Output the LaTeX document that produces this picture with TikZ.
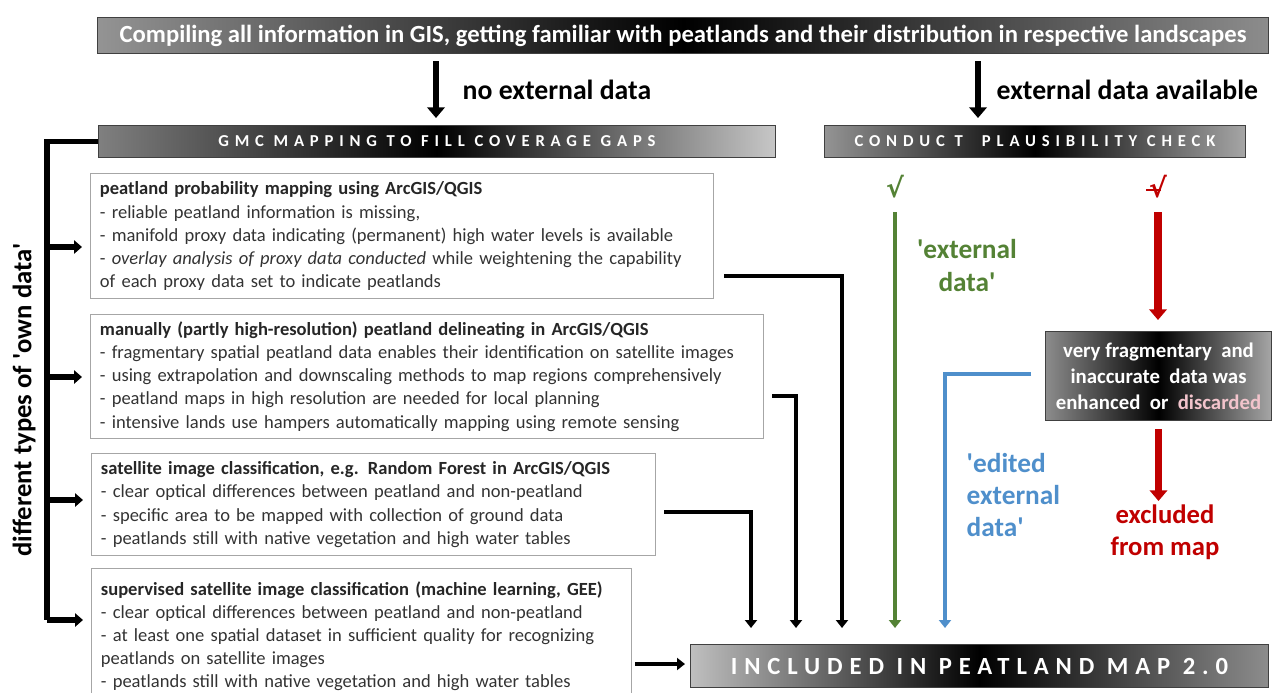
\documentclass[tikz,border=0pt]{standalone}
\usepackage{fontspec}
\setmainfont{Carlito}
\newfontfamily\symfont{DejaVu Sans}
\newfontfamily\capsfont[LetterSpace=35]{Carlito}
\newfontfamily\inclfont[LetterSpace=28]{Carlito}
\usetikzlibrary{arrows.meta,calc}
\definecolor{tgreen}{HTML}{548235}
\definecolor{tblue}{HTML}{4F8FCB}
\definecolor{tred}{HTML}{C00000}
\definecolor{tpink}{HTML}{F2C4CC}
\definecolor{bodytxt}{HTML}{333333}
\newcommand{\sq}{\textquotesingle}
\begin{document}
\begin{tikzpicture}[x=0.75pt,y=-0.75pt,
  txtbox/.style={draw=black!35, line width=0.9pt, anchor=north west, inner xsep=7pt, inner ysep=0pt,
    align=left, font=\fontsize{13.9}{17.3}\selectfont, text=bodytxt},
  shbox/.style={draw=black!75, line width=0.75pt, anchor=north west, inner sep=0pt, text=white, font=\bfseries},
  conn/.style={line width=3pt, line join=miter, -{Triangle[length=6pt,width=9pt]}},
  toparrow/.style={line width=4.5pt, -{Triangle[length=8pt,width=13pt]}},
  brarrow/.style={line width=4pt, -{Triangle[length=6pt,width=10pt]}},
  gline/.style={draw=tgreen, line width=3.5pt, -{Triangle[length=6pt,width=9pt]}},
  bline/.style={draw=tblue, line width=3.5pt, line join=miter, -{Triangle[length=6pt,width=9pt]}},
  rline/.style={draw=tred, line width=5.5pt, -{Triangle[length=8pt,width=13pt]}},
  lbl/.style={font=\bfseries\fontsize{20.8}{24}\selectfont, anchor=west}
]
\useasboundingbox (0,0) rectangle (1272,693);

% top banner
\node[shbox, minimum width=878.25pt, minimum height=27pt, left color=black!42, right color=black!45, middle color=black] (top) at (97,17)
  {\fontsize{18.5}{20}\selectfont Compiling all information in GIS, getting familiar with peatlands and their distribution in respective landscapes};

% second row boxes
\node[shbox, minimum width=507.75pt, minimum height=24pt, left color=black!50, right color=black!22, middle color=black] (gmc) at (98,125)
  {\capsfont\bfseries\fontsize{12.5}{14}\selectfont GMC MAPPING TO FILL COVERAGE GAPS};
\node[shbox, minimum width=315.75pt, minimum height=24pt, left color=black!42, right color=black!35, middle color=black] (chk) at (824,125)
  {\capsfont\bfseries\fontsize{12.5}{14}\selectfont CONDUC T \ PLAUSIBILITY CHECK};

\draw[toparrow] ($(top.south west)+(339,7)$) -- ($(gmc.north west)+(338,-7)$);
\draw[toparrow] ($(top.south west)+(881,7)$) -- ($(chk.north west)+(154,-7)$);
\node[lbl] (lno) at (458,90) {no external data};
\node[lbl] (lyes) at (992,90) {external data available};

% text boxes
\node[txtbox, minimum width=467.25pt, minimum height=93.75pt, text width=453.25pt] (box1) at (90,173)
  {\textbf{\color{black!85}peatland probability mapping using ArcGIS/QGIS}\\
   - reliable peatland information is missing,\\
   - manifold proxy data indicating (permanent) high water levels is available\\
   - \textit{overlay analysis of proxy data conducted} while weightening the capability\\
   of each proxy data set to indicate peatlands};
\node[txtbox, minimum width=504.75pt, minimum height=93pt, text width=490.75pt] (box2) at (90,314)
  {\textbf{\color{black!85}manually (partly high-resolution) peatland delineating in ArcGIS/QGIS}\\
   - fragmentary spatial peatland data enables their identification on satellite images\\
   - using extrapolation and downscaling methods to map regions comprehensively\\
   - peatland maps in high resolution are needed for local planning\\
   - intensive lands use hampers automatically mapping using remote sensing};
\node[txtbox, minimum width=423pt, minimum height=76.5pt, text width=409pt] (box3) at (91,453)
  {\textbf{\color{black!85}satellite image classification, e.g. Random Forest in ArcGIS/QGIS}\\
   - clear optical differences between peatland and non-peatland\\
   - specific area to be mapped with collection of ground data\\
   - peatlands still with native vegetation and high water tables};
\node[txtbox, minimum width=405pt, minimum height=101pt, text width=391pt] (box4) at (91,568)
  {\textbf{\color{black!85}supervised satellite image classification (machine learning, GEE)}\\
   - clear optical differences between peatland and non-peatland\\
   - at least one spatial dataset in sufficient quality for recognizing\\
   peatlands on satellite images\\
   - peatlands still with native vegetation and high water tables};

% bracket
\coordinate (b1) at (47,247);
\coordinate (b2) at (47,377);
\coordinate (b3) at (47,500);
\coordinate (b4) at (47,620);
\draw[line width=4pt, line join=miter] (gmc.west) -| (b4);
\draw[brarrow, shorten >=6pt] (b1) -- (b1 -| box1.west);
\draw[brarrow, shorten >=6pt] (b2) -- (b2 -| box2.west);
\draw[brarrow, shorten >=6pt] (b3) -- (b3 -| box3.west);
\draw[brarrow, shorten >=6pt] (b4) -- (b4 -| box4.west);
\node[rotate=90, font=\bfseries\fontsize{20}{22}\selectfont] (vlab) at (24,400) {different types of \sq own data\sq};

% included box
\node[shbox, minimum width=433.5pt, minimum height=32.25pt, left color=black!25, right color=black!45, middle color=black] (incl) at (690,644)
  {\inclfont\bfseries\fontsize{18.5}{20}\selectfont INCLUDED IN PEATLAND MAP 2.0};

% connectors from own-data boxes
\draw[conn] ($(box1.north east)+(10,103)$) -| ($(incl.north west)+(152,-16)$);
\draw[conn] ($(box2.north east)+(8,82)$) -| ($(incl.north west)+(106,-16)$);
\draw[conn] ($(box3.north east)+(8,59)$) -| ($(incl.north west)+(61,-16)$);
\draw[conn] ($(box4.east |- incl.west)+(3,-2)$) -- ($(incl.west)+(-5,-2)$);

% red box
\node[shbox, minimum width=169.5pt, minimum height=66.75pt, left color=black!45, right color=black!35, middle color=black,
  align=center, font=\bfseries\fontsize{15.6}{19.5}\selectfont] (redbox) at (1045,331)
  {very fragmentary \ and\\ inaccurate \ data was\\ enhanced \ or \ \textcolor{tpink}{discarded}};

% checks and external data lines
\node[text=tgreen, font=\symfont\bfseries\fontsize{20}{21}\selectfont] (gcheck) at (895,187) {√};
\node[text=tred, font=\symfont\bfseries\fontsize{20}{21}\selectfont] (rcheck) at (1158,187)
  {\rlap{\kern-2pt\raisebox{5pt}{\rule{11pt}{2pt}}}√};
\draw[gline] ($(gcheck)+(0,25)$) -- ($(gcheck |- incl.north)+(0,-16)$);
\draw[bline] ($(redbox.west)+(-14,-2)$) -| ($(incl.north west)+(255,-16)$);
\draw[rline] ($(rcheck)+(0,25)$) -- ($(rcheck |- redbox.north)+(0,-11)$);
\node[text=tred, align=center, font=\bfseries\fontsize{20}{24}\selectfont] (excl) at (1165,532) {excluded\\ from map};
\draw[rline] ($(redbox.south)+(0,8)$) -- ($(redbox.south)+(0,80)$);

\node[text=tgreen, align=center, font=\bfseries\fontsize{20.5}{24.75}\selectfont] (lext) at (967,266) {\sq external\\ data\sq};
\node[text=tblue, align=left, anchor=west, font=\bfseries\fontsize{20.5}{24}\selectfont] (ledit) at (962,495) {\sq edited\\ external\\ data\sq};
\end{tikzpicture}
\end{document}
